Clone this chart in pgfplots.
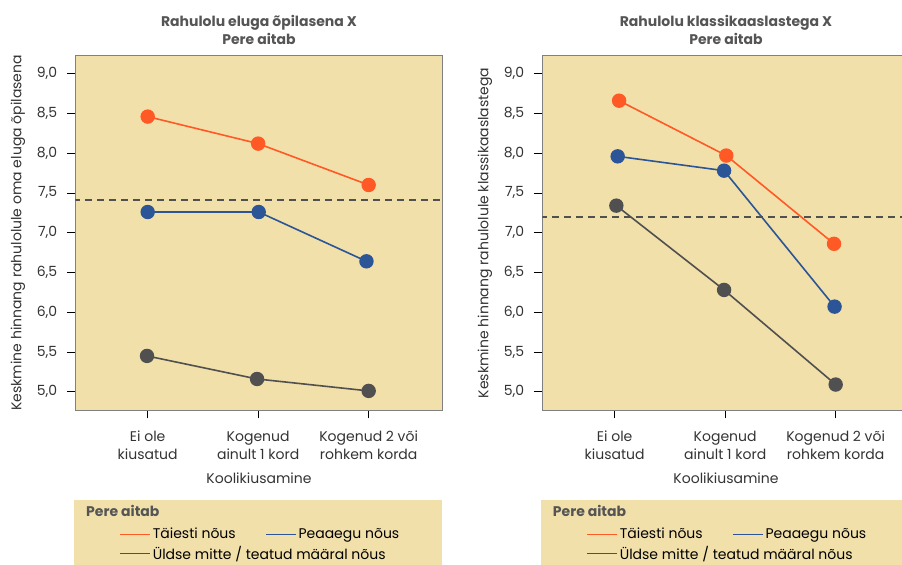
\documentclass[border=0pt]{standalone}
\usepackage{fontspec}
\setmainfont{Poppins}
\usepackage{pgfplots}
\pgfplotsset{compat=1.18}
\definecolor{bgc}{HTML}{F2E0AA}
\definecolor{corange}{HTML}{FF5A26}
\definecolor{cblue}{HTML}{2B5597}
\definecolor{cgray}{HTML}{505050}
\definecolor{titlec}{HTML}{555555}
\definecolor{framec}{HTML}{808080}
\definecolor{textc}{HTML}{333333}
\newcommand{\bigf}{\fontsize{14bp}{18bp}\selectfont}
\pgfplotsset{
  mystyle/.style={
    anchor=south west,
    width=367.4bp, height=354.3bp, scale only axis,
    xmin=-0.655, xmax=2.67, ymin=4.77, ymax=9.226,
    axis background/.style={fill=bgc},
    axis line style={draw=framec, line width=0.9bp},
    xtick={0,1,2},
    xticklabels={Ei ole\\kiusatud, Kogenud\\ainult 1 kord, Kogenud 2 või\\rohkem korda},
    xticklabel style={align=center, text=textc, yshift=-9bp},
    ytick={5,5.5,6,6.5,7,7.5,8,8.5,9},
    yticklabel style={text=textc, xshift=-6bp, /pgf/number format/.cd, fixed, fixed zerofill, precision=1, use comma, assume math mode=true},
    tick align=outside, major tick length=8.5bp,
    tick style={draw=black, line width=0.8bp},
    xtick pos=left, ytick pos=left,
    title style={font=\bigf\bfseries, text=titlec, align=center, yshift=2bp},
    xlabel={Koolikiusamine},
    xlabel style={at={(axis description cs:0.5,-0.192)}, anchor=center, text=textc},
    ylabel style={at={(axis description cs:-0.156,0.5)}, anchor=center, text=textc},
    legend style={at={(axis description cs:0.113,-0.322)}, anchor=north west, draw=none, fill=none,
      legend columns=2, /tikz/every even column/.style={column sep=28bp}, row sep=2bp, text=black},
    legend cell align=left,
    legend image code/.code={\draw[##1, mark=none, line width=0.8bp] (0bp,0bp) -- (30bp,0bp);},
    every axis plot/.append style={line width=1.6bp, mark=*, mark size=6.4bp},
  },
}
\begin{document}
\begin{tikzpicture}[x=1bp, y=1bp, font=\bigf]
\useasboundingbox (0,0) rectangle (902,565);
\fill[bgc] (74,0) rectangle (442,65);
\fill[bgc] (541,0) rectangle (902,65);
\node[anchor=base west, font=\bigf\bfseries, text=titlec, inner sep=0pt] at (86,48) {Pere aitab};
\node[anchor=base west, font=\bigf\bfseries, text=titlec, inner sep=0pt] at (552.7,48) {Pere aitab};

\begin{axis}[mystyle, at={(75.3bp,155bp)},
  title={Rahulolu eluga õpilasena X\\Pere aitab},
  ylabel={Keskmine hinnang rahulolule oma eluga õpilasena}]
\addplot[corange, mark options={fill=corange}] coordinates {(0,8.46) (1,8.12) (2,7.60)};
\addlegendentry{Täiesti nõus}
\addplot[cblue, mark options={fill=cblue}] coordinates {(0,7.26) (1.005,7.26) (1.98,6.64)};
\addlegendentry{Peaaegu nõus}
\addplot[cgray, mark options={fill=cgray}] coordinates {(-0.006,5.45) (0.99,5.16) (2,5.01)};
\addlegendentry{\makebox[0pt][l]{Üldse mitte / teatud määral nõus}}
\addplot[forget plot, mark=none, line width=1.5bp, draw=cgray, dash pattern=on 7bp off 5bp] coordinates {(-1,7.41) (3,7.41)};
\end{axis}

\begin{axis}[mystyle, at={(542.3bp,155bp)},
  title={Rahulolu klassikaaslastega X\\Pere aitab},
  ylabel={Keskmine hinnang rahulolule klassikaaslastega}]
\addplot[corange, mark options={fill=corange}] coordinates {(0.04,8.66) (1.01,7.97) (1.985,6.86)};
\addlegendentry{Täiesti nõus}
\addplot[cblue, mark options={fill=cblue}] coordinates {(0.027,7.96) (0.99,7.78) (1.99,6.07)};
\addlegendentry{Peaaegu nõus}
\addplot[cgray, mark options={fill=cgray}] coordinates {(0.015,7.34) (0.99,6.28) (2,5.09)};
\addlegendentry{\makebox[0pt][l]{Üldse mitte / teatud määral nõus}}
\addplot[forget plot, mark=none, line width=1.5bp, draw=cgray, dash pattern=on 7bp off 5bp] coordinates {(-1,7.20) (3,7.20)};
\end{axis}
\end{tikzpicture}
\end{document}
